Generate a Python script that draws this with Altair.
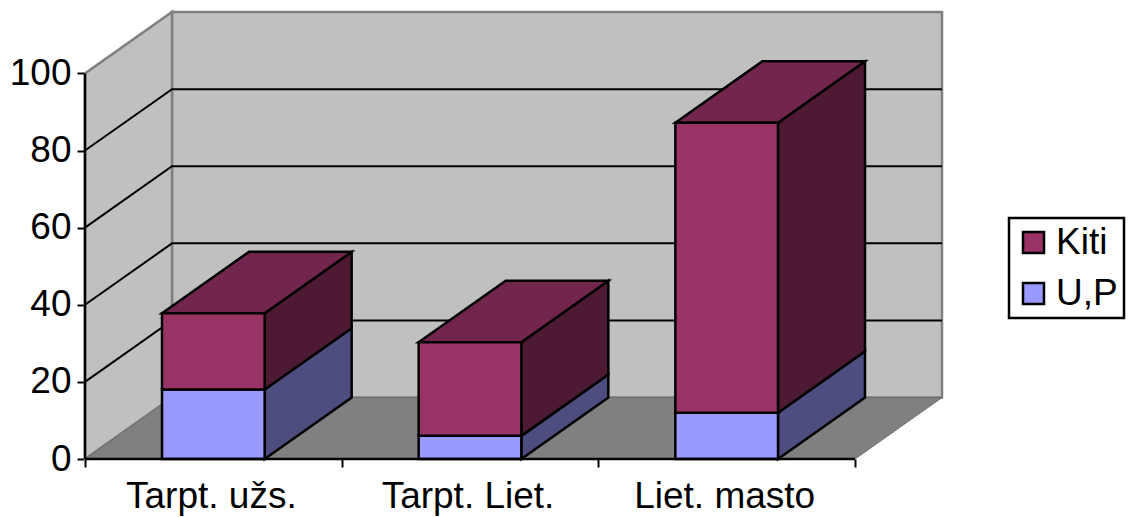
import altair as alt
import pandas as pd

categories = ["Tarpt. užs.", "Tarpt. Liet.", "Liet. masto"]
up_values = [18, 6, 12]
kiti_values = [19.8, 24.3, 75.2]
y_ticks = [0, 20, 40, 60, 80, 100]
x_tick_values = [0, 1, 2, 3]
grid_values = [20, 40, 60, 80]
series = ["Kiti", "U,P"]
front_colors = ["#993366", "#9999FF"]
top_colors = {"Kiti": "#73264D", "U,P": "#7373BF"}
side_colors = {"Kiti": "#4D1933", "U,P": "#4D4D80"}

# oblique projection: depth expressed in axis units
DX = 87 / 256.7
DY = 61.5 / 3.864
BAR_W = 0.4
X_MAX = 3 + DX
Y_MAX = 100 + DY

xs = alt.Scale(domain=[0, X_MAX], nice=False, zero=False)
ys = alt.Scale(domain=[0, Y_MAX], nice=False, zero=False)

x_axis = alt.Axis(
    values=x_tick_values, title=None, domain=False, grid=False, labels=False, ticks=True,
    tickColor="black", tickWidth=2, tickSize=8,
)
y_axis = alt.Axis(
    values=y_ticks, title=None, domain=False, grid=False, ticks=True, tickColor="black",
    tickWidth=2, tickSize=8, labelFont="Liberation Sans", labelFontSize=37, labelColor="black",
    labelPadding=6, labelOverlap=False, labelBound=False, labelFlush=False,
)

front, top, side = [], [], []
for i, cat in enumerate(categories):
    x0 = i + (1 - BAR_W) / 2
    x1 = x0 + BAR_W
    base = 0
    for name, val in (("U,P", up_values[i]), ("Kiti", kiti_values[i])):
        end = base + val
        front.append(dict(series=name, x=x0, x2=x1, y=base, y2=end))
        fid = f"{cat}-{name}"
        side.append(dict(id=fid, color=side_colors[name], x=x1, y=base, y2=end))
        side.append(dict(id=fid, color=side_colors[name], x=x1 + DX, y=base + DY, y2=end + DY))
        if name == "Kiti":
            top.append(dict(id=fid, color=top_colors[name], x=x0, x2=x1, y=end))
            top.append(dict(id=fid, color=top_colors[name], x=x0 + DX, x2=x1 + DX, y=end + DY))
        base = end

X = alt.X("x:Q", scale=xs, axis=x_axis)
Y = alt.Y("y:Q", scale=ys, axis=y_axis)

# walls and floor
back = alt.Chart(pd.DataFrame([dict(x=DX, x2=X_MAX, y=DY, y2=Y_MAX)])).mark_rect(
    fill="#C0C0C0", stroke="#808080", strokeWidth=2.5
).encode(x=X, x2="x2:Q", y=Y, y2="y2:Q")

wall = alt.Chart(pd.DataFrame([dict(x=0, y=0, y2=100), dict(x=DX, y=DY, y2=Y_MAX)])).mark_area(
    fill="#C0C0C0", stroke="#808080", strokeWidth=2.5
).encode(x=X, y=Y, y2="y2:Q")

floor = alt.Chart(pd.DataFrame([dict(x=0, x2=3, y=0), dict(x=DX, x2=X_MAX, y=DY)])).mark_area(
    orient="horizontal", fill="#808080", stroke="#6E6E6E", strokeWidth=1
).encode(y=Y, x=X, x2="x2:Q")

grid_rows = []
for v in grid_values:
    grid_rows += [dict(id=v, x=0, y=v), dict(id=v, x=DX, y=v + DY), dict(id=v, x=X_MAX, y=v + DY)]
grid = alt.Chart(pd.DataFrame(grid_rows)).mark_line(color="black", strokeWidth=2).encode(
    x=X, y=Y, detail="id:N"
)

# bar faces
side_layer = alt.Chart(pd.DataFrame(side)).mark_area(stroke="black", strokeWidth=2.5).encode(
    x=X, y=Y, y2="y2:Q", detail="id:N", fill=alt.Fill("color:N", scale=None)
)
top_layer = alt.Chart(pd.DataFrame(top)).mark_area(orient="horizontal", stroke="black", strokeWidth=2.5).encode(
    y=Y, x=X, x2="x2:Q", detail="id:N", fill=alt.Fill("color:N", scale=None)
)
front_layer = alt.Chart(pd.DataFrame(front)).mark_rect(stroke="black", strokeWidth=2.5).encode(
    x=X, x2="x2:Q", y=Y, y2="y2:Q",
    fill=alt.Fill(
        "series:N",
        scale=alt.Scale(domain=series, range=front_colors),
        legend=alt.Legend(
            title=None, orient="none", legendX=924, legendY=206,
            strokeColor="black", fillColor="white", padding=6,
            labelFont="Liberation Sans", labelFontSize=37, labelColor="black",
            labelOffset=4, symbolType="square", symbolSize=441,
            symbolStrokeColor="black", symbolStrokeWidth=2.5, rowPadding=13,
            labelLimit=200,
        ),
    ),
)

# axis lines, spanning the front plane only
y_axis_line = alt.Chart(pd.DataFrame([dict(x=0, y=0, y2=100)])).mark_rule(color="black", strokeWidth=2.5).encode(
    x=X, y=Y, y2="y2:Q"
)
x_axis_line = alt.Chart(pd.DataFrame([dict(x=0, x2=3, y=0)])).mark_rule(color="black", strokeWidth=2.5).encode(
    x=X, x2="x2:Q", y=Y
)
x_labels = alt.Chart(pd.DataFrame({"x": [i + 0.5 for i in range(3)], "label": categories})).mark_text(
    font="Liberation Sans", fontSize=37, color="black", baseline="alphabetic", align="center", dx=-2
).encode(x=X, y=alt.value(496), text="label:N")

chart = alt.layer(
    back, wall, grid, floor, side_layer, top_layer, front_layer,
    y_axis_line, x_axis_line, x_labels,
).resolve_scale(fill="independent").properties(
    width=857, height=447,
    padding={"left": 77, "top": 4, "right": 184, "bottom": 58},
    autosize=alt.AutoSizeParams(type="none", contains="content"),
).configure_view(stroke=None).configure_legend(strokeWidth=2.5)

chart.save("out.html", embed_options={"renderer": "svg", "actions": False})
